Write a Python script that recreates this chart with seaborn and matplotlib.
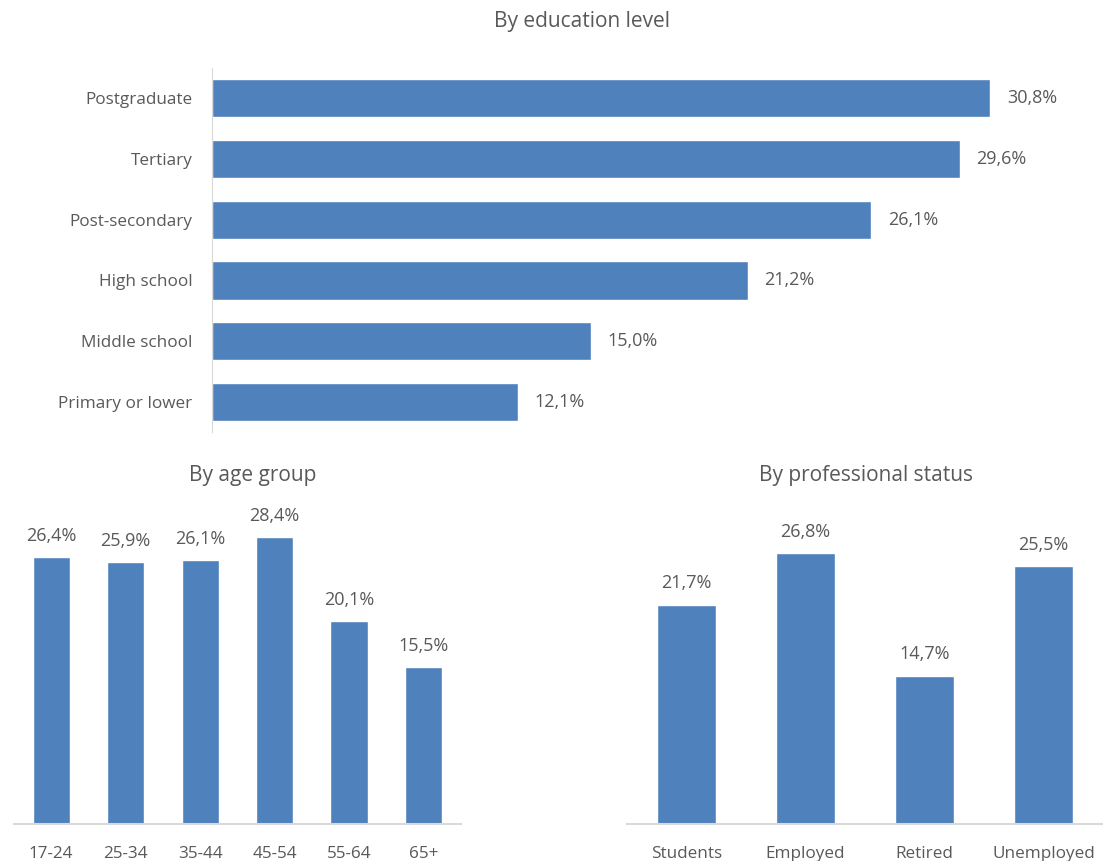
import seaborn as sns
import matplotlib.pyplot as plt

edu_levels = ['Postgraduate', 'Tertiary', 'Post-secondary', 'High school', 'Middle school', 'Primary or lower']
edu_values = [30.8, 29.6, 26.1, 21.2, 15.0, 12.1]

age_groups = ['17-24', '25-34', '35-44', '45-54', '55-64', '65+']
age_values = [26.4, 25.9, 26.1, 28.4, 20.1, 15.5]

status_groups = ['Students', 'Employed', 'Retired', 'Unemployed']
status_values = [21.7, 26.8, 14.7, 25.5]

azul = '#4F81BD'
gris = '#595959'
linea = '#D9D9D9'

sns.set_style('white')
plt.rcParams['font.family'] = ['Open Sans', 'DejaVu Sans']


def etiquetas(vals):
    return [f'{v:.1f}%'.replace('.', ',') for v in vals]


fig = plt.figure(figsize=(11.03, 8.61), dpi=100)

# Nivel educativo (barras horizontales)
ax1 = fig.add_axes([0.192, 0.498, 0.802, 0.423])
sns.barplot(x=edu_values, y=edu_levels, orient='h', color=azul, width=0.63,
            saturation=1, ax=ax1)
ax1.set_xlim(0, 35)
ax1.set_ylim(5.5, -0.5)
ax1.bar_label(ax1.containers[0], labels=etiquetas(edu_values), padding=12,
              fontsize=13, color=gris)
ax1.set_xticks([])
ax1.tick_params(axis='y', length=0, pad=14, labelsize=12.3, labelcolor=gris)
for s in ['top', 'right', 'bottom']:
    ax1.spines[s].set_visible(False)
ax1.spines['left'].set_color(linea)
ax1.set_xlabel('')
ax1.set_ylabel('')

# Grupo de edad
ax2 = fig.add_axes([0.0127, 0.043, 0.405, 0.387])
sns.barplot(x=age_groups, y=age_values, color=azul, width=0.5, saturation=1, ax=ax2)
ax2.set_xlim(-0.5, 5.5)
ax2.set_ylim(0, 33)
ax2.bar_label(ax2.containers[0], labels=etiquetas(age_values), padding=9,
              fontsize=13, color=gris)

# Situacion profesional
ax3 = fig.add_axes([0.5685, 0.043, 0.4315, 0.387])
sns.barplot(x=status_groups, y=status_values, color=azul, width=0.5, saturation=1, ax=ax3)
ax3.set_xlim(-0.5, 3.5)
ax3.set_ylim(0, 33)
ax3.bar_label(ax3.containers[0], labels=etiquetas(status_values), padding=9,
              fontsize=13, color=gris)

for ax in [ax2, ax3]:
    ax.set_yticks([])
    ax.tick_params(axis='x', length=0, pad=16, labelsize=12.3, labelcolor=gris)
    for s in ['top', 'right', 'left']:
        ax.spines[s].set_visible(False)
    ax.spines['bottom'].set_color(linea)
    ax.spines['bottom'].set_linewidth(1.5)
    ax.set_xlabel('')
    ax.set_ylabel('')

fig.text(582 / 1103, 1 - 22 / 861, 'By education level', ha='center', va='center',
         fontsize=15, color=gris)
fig.text(253 / 1103, 1 - 475 / 861, 'By age group', ha='center', va='center',
         fontsize=15, color=gris)
fig.text(866 / 1103, 1 - 475 / 861, 'By professional status', ha='center', va='center',
         fontsize=15, color=gris)

fig.savefig('out.png', dpi=100)
